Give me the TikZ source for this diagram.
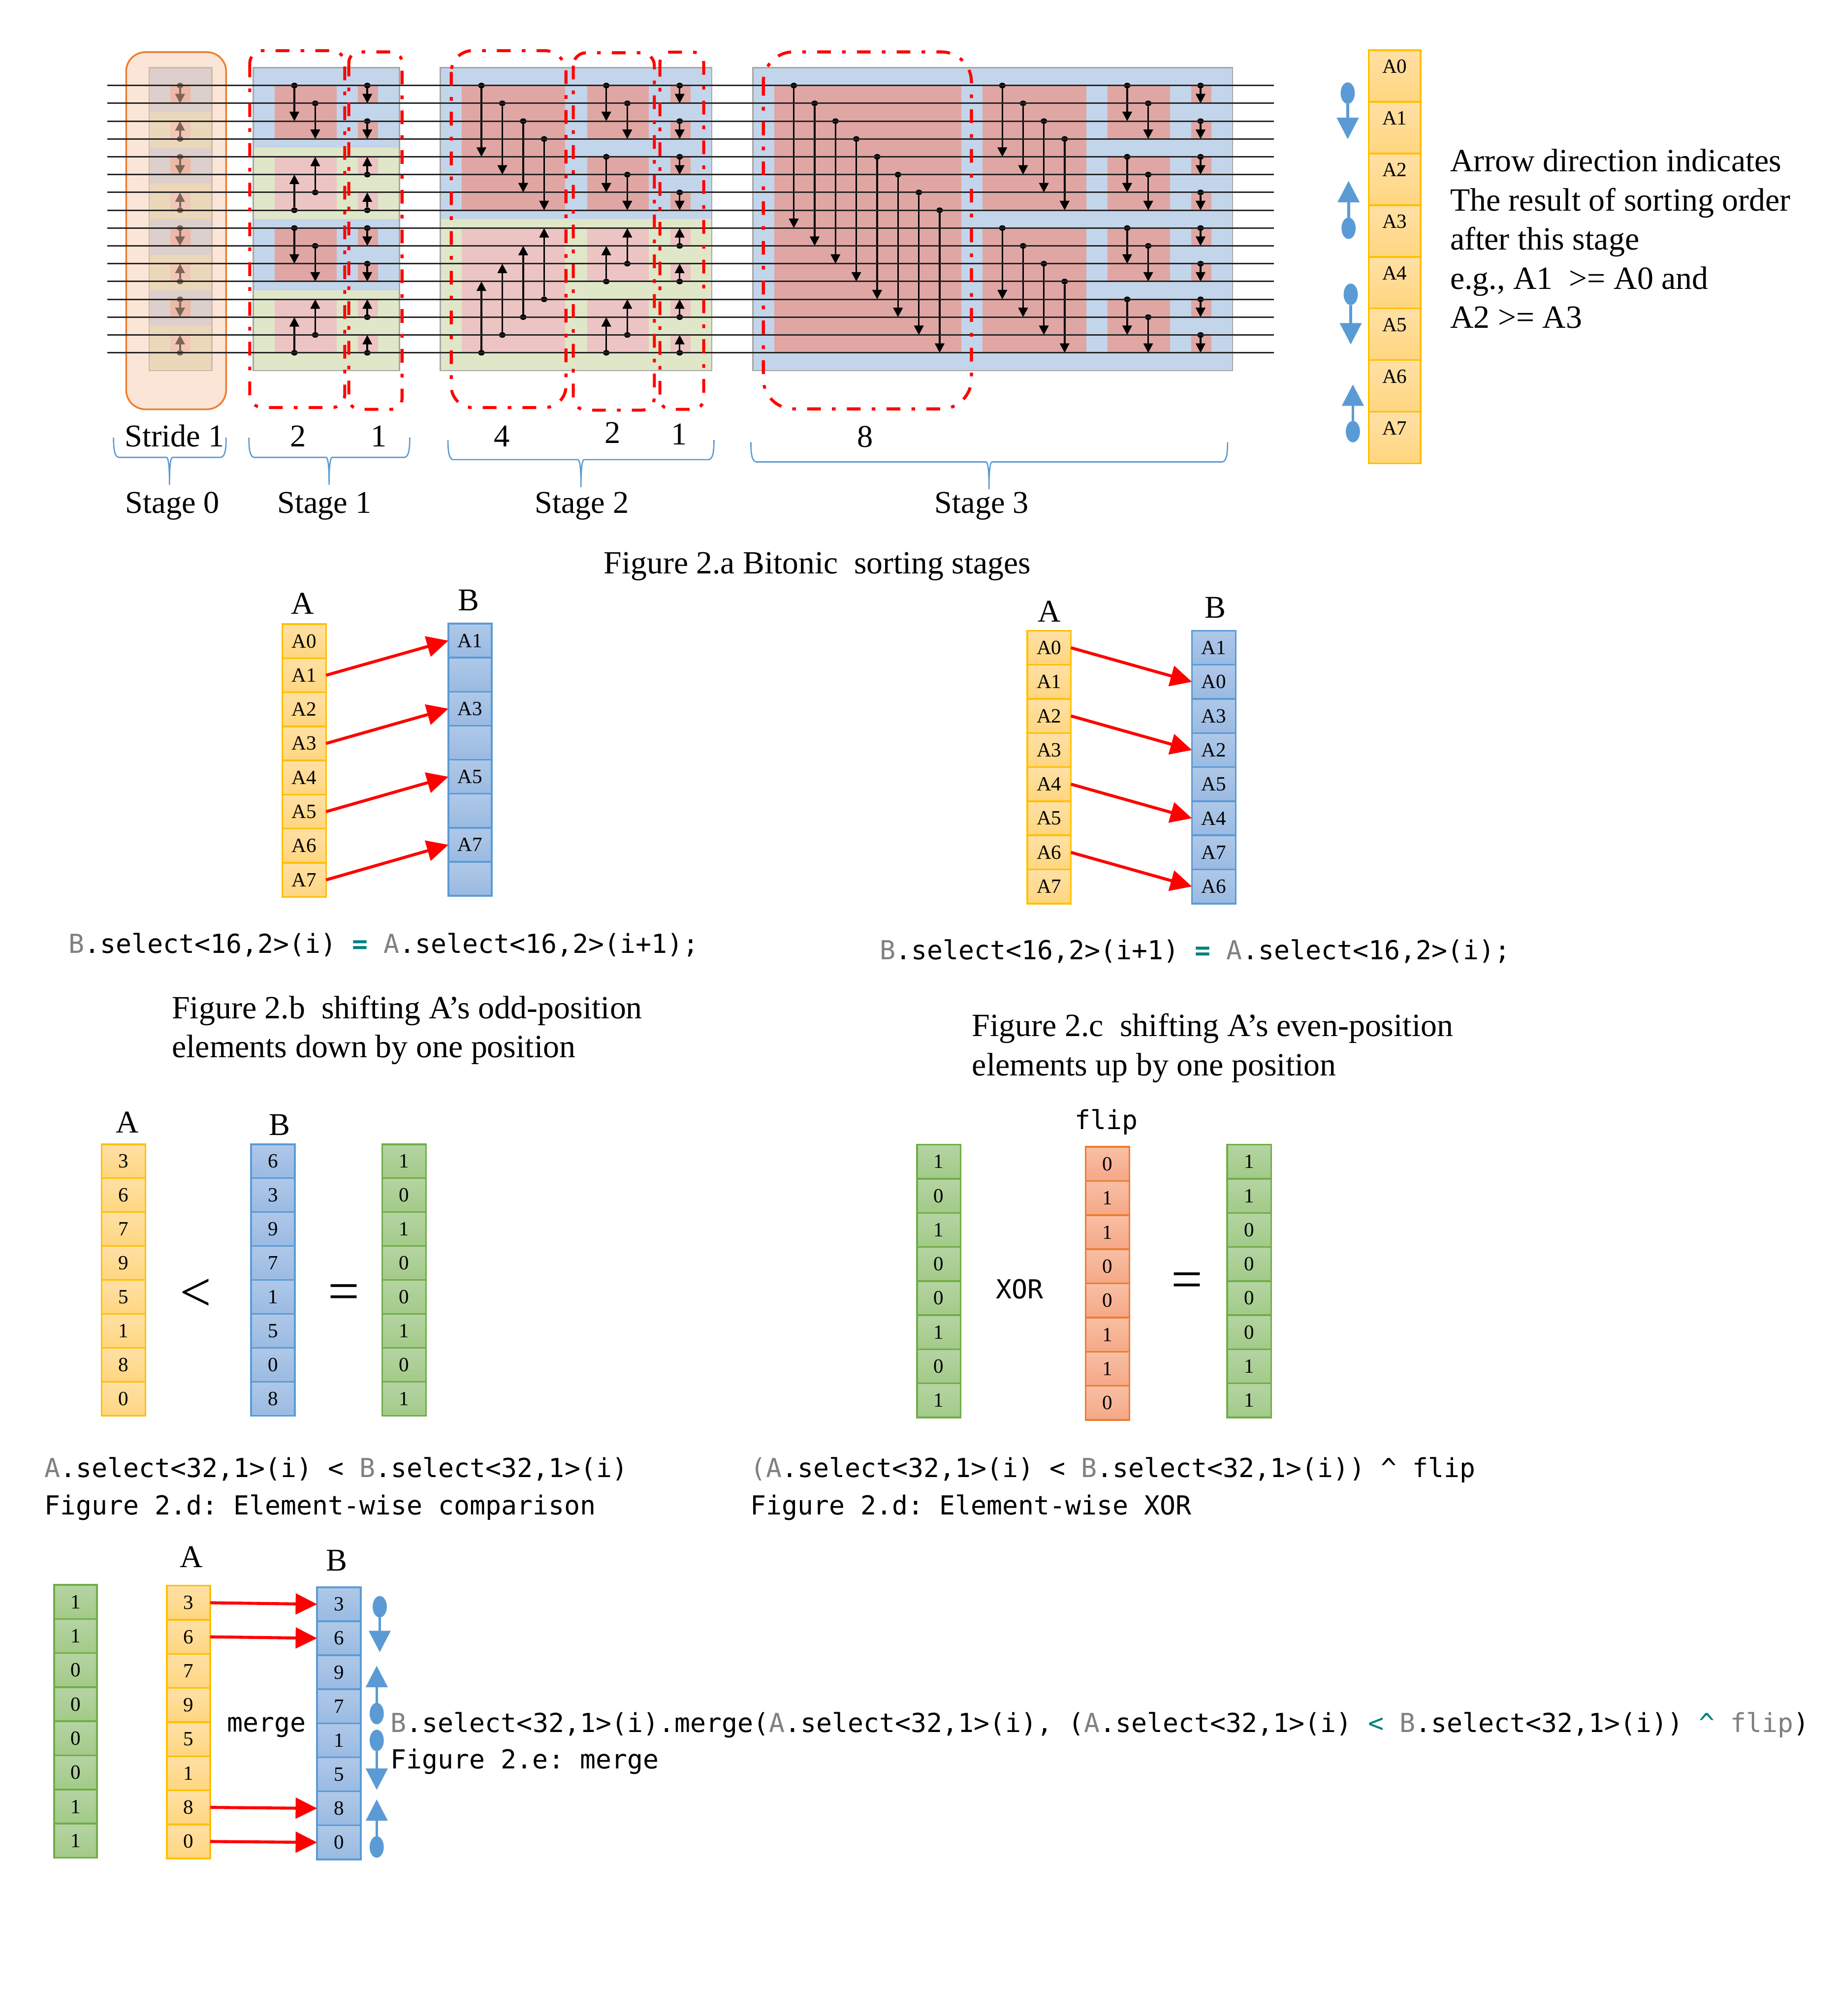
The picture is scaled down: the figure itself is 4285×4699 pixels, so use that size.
\documentclass[tikz,border=0pt]{standalone}
\usepackage{fontspec}
\setmainfont{Liberation Serif}
\setmonofont{DejaVu Sans Mono}
\usepackage{tikz}
\usetikzlibrary{shapes.geometric, arrows.meta, positioning, calc}

\definecolor{blockblue}{HTML}{C3D5EA}
\definecolor{blockgreen}{HTML}{DFE7C8}
\definecolor{reddown}{HTML}{E0A6A3}
\definecolor{redup}{HTML}{EBC4C3}
\definecolor{signblue}{HTML}{5B9BD5}
\definecolor{codegray}{HTML}{808080}
\definecolor{codeteal}{HTML}{008080}

% wire number to y position
\newcommand{\wy}[1]{199.3+41.53*(#1)}
\newcounter{cmpno}
\newcommand{\gry}[1]{\textcolor{codegray}{#1}}
\newcommand{\tel}[1]{\textcolor{codeteal}{#1}}

\newcommand{\block}[5]{% x left, x right, first wire, wires, style
	\fill[#5] (#1,{\wy{(#3)==0 ? -1 : (#3)-.5}}) rectangle (#2,{\wy{(#3)+(#4)-1==15 ? 16 : (#3)+(#4)-.5}});
}
\newcommand{\cmp}[3]{% x, from wire, to wire
	\stepcounter{cmpno}
	\node[cmpdot] (dot\arabic{cmpno}) at ({#1},{\wy{#2}}) {};
	\coordinate (tip\arabic{cmpno}) at ({#1},{\wy{#3}});
	\draw[cmparrow] (dot\arabic{cmpno}) -- (tip\arabic{cmpno});
}
\newcommand{\downgroup}[6]{% x left, x right, first wire, stride, first arrow x, arrow step
	\fill[reddown] (#1,{\wy{#3}}) rectangle (#2,{\wy{(#3)+2*(#4)-1}});
	\foreach \k in {1,...,#4} {\cmp{#5+(\k-1)*#6}{(#3)+\k-1}{(#3)+\k-1+(#4)}}
}
\newcommand{\upgroup}[6]{%
	\fill[redup] (#1,{\wy{#3}}) rectangle (#2,{\wy{(#3)+2*(#4)-1}});
	\foreach \k in {1,...,#4} {\cmp{#5+(\k-1)*#6}{(#3)+2*(#4)-\k}{(#3)+(#4)-\k}}
}
\newcommand{\cellcol}[7]{% name, style, x left, y top, width, height, values
	\foreach \val [count=\i] in {#7} {
		\node[cell, #2, minimum width={#5*0.01cm}, minimum height={#6*0.01cm}] (#1\i) at ({#3+#5/2},{#4+(\i-.5)*#6}) {\val};
	}
}
\newcommand{\signarrow}[4]{% name, x, y of dot, y of tip
	\node[signdot] (#1) at (#2,#3) {};
	\coordinate (#1tip) at (#2,#4);
	\draw[signline] (#1) -- (#1tip);
}
\newcommand{\stagebrace}[4]{% x left, x middle, x right, y top
	\draw[bracket] (#1,#4) .. controls (#1,{#4+30}) and ({#1+3},{#4+44}) .. ({#1+12},{#4+46})
		-- ({#2-7},{#4+46}) .. controls ({#2-2},{#4+47}) and (#2,{#4+70}) .. (#2,{#4+110})
		.. controls (#2,{#4+70}) and ({#2+2},{#4+47}) .. ({#2+7},{#4+46})
		-- ({#3-12},{#4+46}) .. controls ({#3-3},{#4+44}) and (#3,{#4+30}) .. (#3,#4);
}

\begin{document}
\begin{tikzpicture}[
	x=0.01cm, y=-0.01cm,
	wire/.style={line width=0.035cm, black!85},
	blockrim/.style={draw=black!35, line width=0.03cm},
	cmpdot/.style={ellipse, fill=black, minimum width=0.15cm, minimum height=0.13cm, inner sep=0pt, outer sep=0pt},
	cmparrow/.style={line width=0.04cm, -{Triangle[length=0.22cm, width=0.22cm]}},
	stridebox/.style={draw=red, line width=0.07cm, dash pattern=on 0.32cm off 0.26cm on 0.086cm off 0.26cm},
	bracket/.style={draw=signblue, line width=0.03cm},
	txt/.style={font=\fontsize{21}{25.9}\selectfont, anchor=base, inner sep=0pt},
	captxt/.style={font=\fontsize{21.5}{25.9}\selectfont, anchor=base west, align=left, inner sep=0pt},
	cod/.style={font=\ttfamily\fontsize{17.35}{22}\selectfont, anchor=base west, inner sep=0pt},
	cell/.style={draw, line width=0.04cm, inner sep=0pt, outer sep=0pt, font=\fontsize{13.4}{15}\selectfont},
	ycell/.style={draw={rgb,255:red,255;green,192;blue,0}, top color={rgb,255:red,255;green,224;blue,166}, bottom color={rgb,255:red,255;green,214;blue,127}},
	bcell/.style={draw=signblue, top color={rgb,255:red,175;green,200;blue,232}, bottom color={rgb,255:red,154;green,186;blue,226}},
	gcell/.style={draw={rgb,255:red,112;green,173;blue,71}, top color={rgb,255:red,181;green,212;blue,163}, bottom color={rgb,255:red,162;green,202;blue,136}},
	ocell/.style={draw={rgb,255:red,237;green,125;blue,49}, top color={rgb,255:red,248;green,191;blue,165}, bottom color={rgb,255:red,245;green,168;blue,134}},
	raised/.style={text depth=0.45cm},
	redarrow/.style={draw=red, line width=0.07cm, -{Triangle[length=0.5cm, width=0.48cm]}},
	signdot/.style={ellipse, fill=signblue, minimum width=0.33cm, minimum height=0.5cm, inner sep=0pt, outer sep=0pt},
	signline/.style={draw=signblue, line width=0.065cm, -{Triangle[length=0.5cm, width=0.5cm]}}
]
\useasboundingbox (0,0) rectangle (4285,4699);

% Stage 0
\foreach \g in {0,4,8,12} {
	\block{347.5}{494}{\g}{2}{blockblue}
	\block{347.5}{494}{\g+2}{2}{blockgreen}
	\downgroup{397}{444.5}{\g}{1}{419.6}{0}
	\upgroup{397}{444.5}{\g+2}{1}{419.6}{0}
}
\draw[blockrim] (347.5,{\wy{-1}}) rectangle (494,{\wy{16}});
\fill[fill={rgb,255:red,248;green,203;blue,173}, fill opacity=0.5, rounded corners=0.45cm] (294,121.5) rectangle (527,954);
\draw[draw={rgb,255:red,237;green,125;blue,49}, line width=0.04cm, rounded corners=0.45cm] (294,121.5) rectangle (527,954);

% Stage 1
\foreach \g in {0,8} {
	\block{590}{931}{\g}{4}{blockblue}
	\block{590}{931}{\g+4}{4}{blockgreen}
	\downgroup{640}{784.4}{\g}{2}{686}{48.7}
	\upgroup{640}{784.4}{\g+4}{2}{686}{48.7}
	\downgroup{834}{881}{\g}{1}{856}{0}
	\downgroup{834}{881}{\g+2}{1}{856}{0}
	\upgroup{834}{881}{\g+4}{1}{856}{0}
	\upgroup{834}{881}{\g+6}{1}{856}{0}
}
\draw[blockrim] (590,{\wy{-1}}) rectangle (931,{\wy{16}});

% Stage 2
\block{1026}{1659}{0}{8}{blockblue}
\block{1026}{1659}{8}{8}{blockgreen}
\downgroup{1076}{1317.5}{0}{4}{1122}{48.7}
\upgroup{1076}{1317.5}{8}{4}{1122}{48.7}
\foreach \g in {0,4} {
	\downgroup{1368.5}{1512}{\g}{2}{1413}{49}
	\upgroup{1368.5}{1512}{\g+8}{2}{1413}{49}
}
\foreach \g in {0,2,4,6} {
	\downgroup{1562.6}{1610}{\g}{1}{1584}{0}
	\upgroup{1562.6}{1610}{\g+8}{1}{1584}{0}
}
\draw[blockrim] (1026,{\wy{-1}}) rectangle (1659,{\wy{16}});

% Stage 3
\block{1755}{2872.5}{0}{16}{blockblue}
\downgroup{1805}{2240.6}{0}{8}{1850}{48.57}
\foreach \g in {0,8} {\downgroup{2289.6}{2531.7}{\g}{4}{2336}{48.4}}
\foreach \g in {0,4,8,12} {\downgroup{2581.4}{2726.5}{\g}{2}{2627}{49}}
\foreach \g in {0,2,...,14} {\downgroup{2776}{2823.6}{\g}{1}{2798}{0}}
\draw[blockrim] (1755,{\wy{-1}}) rectangle (2872.5,{\wy{16}});

% Wires
\foreach \i in {0,...,15} {
	\coordinate (wl\i) at (250,{\wy{\i}});
	\coordinate (wr\i) at (2969,{\wy{\i}});
	\draw[wire] (wl\i) -- (wr\i);
}

% Stride outlines
\draw[stridebox, rounded corners=0.3cm] (582,118) rectangle (803.5,950);
\draw[stridebox, rounded corners=0.25cm] (813,121) rectangle (937,954);
\draw[stridebox, rounded corners=0.5cm] (1051.7,118) rectangle (1319,950);
\draw[stridebox, rounded corners=0.3cm] (1336,123) rectangle (1525,956);
\draw[stridebox, rounded corners=0.25cm] (1538,121.5) rectangle (1640,954);
\draw[stridebox, rounded corners=0.7cm] (1779,121) rectangle (2264,953);

% Stage labels
\node[txt] (stridezero) at (407,1041) {Stride 1};
\node[txt] (sone) at (695,1041) {2};
\node[txt] (stwo) at (883,1041) {1};
\node[txt] (sthree) at (1170,1041) {4};
\node[txt] (sfour) at (1428,1033) {2};
\node[txt] (sfive) at (1583,1036) {1};
\node[txt] (ssix) at (2016,1042) {8};
\stagebrace{264.6}{395}{527}{1020}
\stagebrace{580}{767}{955}{1020}
\stagebrace{1044}{1354}{1664}{1025.4}
\stagebrace{1750}{2305}{2861}{1030.6}
\node[txt] (stagezero) at (402,1195.6) {Stage 0};
\node[txt] (stageone) at (756,1195.6) {Stage 1};
\node[txt] (stagetwo) at (1356,1195.6) {Stage 2};
\node[txt] (stagethree) at (2288,1195.6) {Stage 3};

% Key column and arrow legend
\cellcol{key}{ycell, raised}{3190}{117}{121}{120.4}{A0,A1,A2,A3,A4,A5,A6,A7}
\signarrow{keyone}{3141}{217}{324.4}
\signarrow{keytwo}{3143}{532}{421.5}
\signarrow{keythree}{3148}{686}{803}
\signarrow{keyfour}{3153}{1006}{896}
\node[font=\fontsize{21.5}{25.9}\selectfont, align=left, anchor=north west, inner sep=0pt] (keytext) at (3379,347) {Arrow direction indicates\\The result of sorting order\\after this stage\\e.g., A1\ \ >= A0 and\\A2 >= A3};
\node[txt, font=\fontsize{21.4}{25.9}\selectfont] (figa) at (1905,1337) {Figure 2.a Bitonic\ \ sorting stages};

% Figure 2.b
\node[txt] (bhA) at (705,1431.6) {A};
\node[txt] (bhB) at (1092.6,1423) {B};
\cellcol{ba}{ycell}{658}{1454.6}{102}{79.5}{A0,A1,A2,A3,A4,A5,A6,A7}
\cellcol{bb}{bcell}{1045}{1453.6}{101}{79.3}{A1,{},A3,{},A5,{},A7,{}}
\foreach \i/\j in {2/1,4/3,6/5,8/7} {\draw[redarrow] (ba\i.east) -- (bb\j.west);}
\node[cod] (bcode) at (159,2222) {\gry{B}.select<16,2>(i) \tel{\textbf{=}} \gry{A}.select<16,2>(i+1);};
\node[captxt] (bcap) at (400,2465) {Figure 2.b\ \ shifting A’s odd-position\\elements down by one position};

% Figure 2.c
\node[txt] (chA) at (2445,1449) {A};
\node[txt] (chB) at (2832,1440) {B};
\cellcol{ca}{ycell}{2394}{1470}{102}{79.5}{A0,A1,A2,A3,A4,A5,A6,A7}
\cellcol{cb}{bcell}{2778}{1470}{102}{79.5}{A1,A0,A3,A2,A5,A4,A7,A6}
\foreach \i/\j in {1/2,3/4,5/6,7/8} {\draw[redarrow] (ca\i.east) -- (cb\j.west);}
\node[cod] (ccode) at (2050,2237) {\gry{B}.select<16,2>(i+1) \tel{\textbf{=}} \gry{A}.select<16,2>(i);};
\node[captxt] (ccap) at (2265,2507) {Figure 2.c\ \ shifting A’s even-position\\elements up by one position};

% Figure 2.d comparison
\node[txt] (dhA) at (297,2640) {A};
\node[txt] (dhB) at (651,2646) {B};
\cellcol{da}{ycell}{237}{2667}{102}{79.1}{3,6,7,9,5,1,8,0}
\cellcol{db}{bcell}{585}{2667}{102}{79.1}{6,3,9,7,1,5,0,8}
\cellcol{dg}{gcell}{891}{2667}{102}{79.1}{1,0,1,0,0,1,0,1}
\node[txt, font=\fontsize{37}{40}\selectfont, anchor=center] (dlt) at (456,3018) {<};
\node[txt, font=\fontsize{37}{40}\selectfont, anchor=center] (deq) at (801,3024) {=};
\node[cod] (dcode) at (103,3443) {\gry{A}.select<32,1>(i) < \gry{B}.select<32,1>(i)};
\node[cod] (dcap) at (103,3530) {Figure 2.d: Element-wise comparison};

% Figure 2.d xor
\node[cod, anchor=base] (fliphead) at (2578.6,2632) {flip};
\cellcol{xg}{gcell}{2137}{2668}{102}{79.5}{1,0,1,0,0,1,0,1}
\cellcol{xo}{ocell}{2530}{2673}{102.4}{79.6}{0,1,1,0,0,1,1,0}
\cellcol{xr}{gcell}{2860}{2668}{102.7}{79.5}{1,1,0,0,0,0,1,1}
\node[cod, anchor=base] (xorlabel) at (2376,3027) {XOR};
\node[txt, font=\fontsize{37}{40}\selectfont, anchor=center] (xeq) at (2767,2996) {=};
\node[cod] (xcode) at (1748,3443) {\gry{(A}.select<32,1>(i) < \gry{B}.select<32,1>(i)) \textasciicircum{} flip};
\node[cod] (xcap) at (1748,3530) {Figure 2.d: Element-wise XOR};

% Figure 2.e merge
\node[txt] (ehA) at (446,3653.6) {A};
\node[txt] (ehB) at (785,3661) {B};
\cellcol{eg}{gcell}{126}{3694}{100}{79.5}{1,1,0,0,0,0,1,1}
\cellcol{ea}{ycell}{389}{3696}{101}{79.5}{3,6,7,9,5,1,8,0}
\cellcol{eb}{bcell}{739}{3699.5}{102}{79.3}{3,6,9,7,1,5,8,0}
\foreach \i in {1,2,7,8} {\draw[redarrow] (ea\i.east) -- (eb\i.west);}
\signarrow{eone}{885}{3745}{3851}
\signarrow{etwo}{878}{3994}{3882.6}
\signarrow{ethree}{878}{4056.6}{4172}
\signarrow{efour}{878}{4305}{4194}
\node[cod, anchor=base] (emerge) at (621.5,4037) {merge};
\node[cod] (ecode) at (910,4038) {\gry{B}.select<32,1>(i).merge(\gry{A}.select<32,1>(i), (\gry{A}.select<32,1>(i) \tel{<} \gry{B}.select<32,1>(i)) \tel{\textasciicircum} \gry{flip})};
\node[cod] (ecap) at (910,4122) {Figure 2.e: merge};

\end{tikzpicture}
\end{document}
